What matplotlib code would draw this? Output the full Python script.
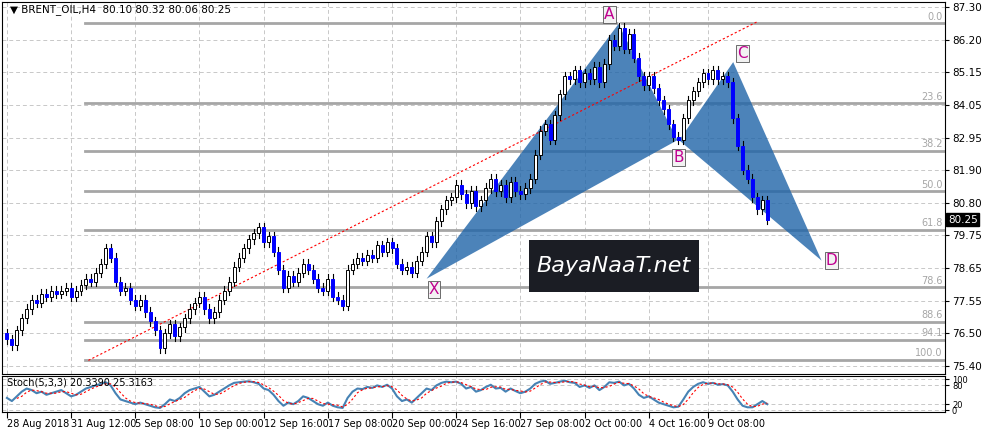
import numpy as np
import matplotlib.pyplot as plt
from matplotlib.patches import Polygon, Rectangle

# closes, one per H4 bar
closes = [76.3, 76.1, 76.6, 77.0, 77.3, 77.6, 77.5, 77.8, 77.7, 77.9,
          77.8, 77.9, 78.0, 77.7, 77.9, 78.1, 78.3, 78.2, 78.5, 78.8,
          79.3, 79.0, 78.2, 77.9, 78.0, 77.6, 77.4, 77.6, 77.2, 76.9,
          76.6, 76.0, 76.5, 76.8, 76.4, 76.7, 77.0, 77.3, 77.5, 77.7,
          77.3, 77.0, 77.2, 77.6, 77.9, 78.2, 78.7, 79.0, 79.3, 79.6,
          79.8, 80.0, 79.5, 79.7, 79.2, 78.6, 78.0, 78.4, 78.2, 78.5,
          78.8, 78.6, 78.3, 78.0, 77.9, 78.3, 77.7, 77.6, 77.4, 78.6,
          78.8, 79.0, 78.9, 79.1, 79.0, 79.4, 79.2, 79.5, 79.3, 78.8,
          78.6, 78.7, 78.5, 78.9, 79.2, 79.7, 79.5, 80.2, 80.6, 80.9,
          81.0, 81.4, 81.1, 80.8, 81.2, 80.7, 80.9, 81.3, 81.6, 81.2,
          81.4, 81.0, 81.5, 81.2, 81.1, 81.3, 81.6, 82.4, 83.2, 83.4,
          82.9, 83.7, 84.4, 85.0, 84.9, 85.2, 84.8, 85.1, 84.9, 85.3,
          84.8, 85.4, 86.2, 86.0, 86.6, 85.9, 86.4, 85.6, 85.0, 84.7,
          85.0, 84.6, 84.2, 83.9, 83.4, 83.0, 82.9, 83.6, 84.2, 84.5,
          84.8, 85.1, 84.9, 85.2, 84.9, 85.0, 84.8, 83.6, 82.7, 81.9,
          81.6, 81.0, 80.6, 80.9, 80.25]
first_open = 76.5

stoch_k = [40, 30, 45, 60, 70, 65, 55, 60, 50, 55,
           60, 65, 55, 45, 50, 60, 70, 75, 80, 85,
           90, 80, 55, 35, 30, 25, 20, 25, 20, 15,
           10, 8, 20, 35, 30, 40, 55, 65, 70, 75,
           60, 45, 50, 60, 70, 80, 88, 90, 92, 93,
           90, 85, 70, 65, 50, 30, 15, 25, 20, 30,
           45, 40, 30, 20, 15, 25, 15, 10, 8, 40,
           60, 70, 68, 75, 72, 80, 75, 82, 70, 45,
           30, 35, 25, 40, 55, 70, 65, 80, 88, 92,
           90, 92, 85, 70, 75, 60, 65, 75, 82, 70,
           72, 60, 70, 62, 55, 60, 70, 85, 92, 95,
           85, 88, 92, 95, 90, 88, 75, 80, 72, 80,
           65, 75, 90, 88, 92, 80, 85, 70, 50, 40,
           45, 35, 25, 20, 15, 10, 12, 35, 60, 75,
           85, 90, 85, 88, 82, 84, 80, 60, 35, 15,
           10, 10, 20, 30, 20]

date_labels = ["28 Aug 2018", "31 Aug 12:00", "5 Sep 08:00", "10 Sep 00:00",
               "12 Sep 16:00", "17 Sep 08:00", "20 Sep 00:00", "24 Sep 16:00",
               "27 Sep 08:00", "2 Oct 00:00", "4 Oct 16:00", "9 Oct 08:00"]
date_bars = [0, 13, 26, 39, 52, 65, 78, 91, 104, 117, 130, 142]

price_ticks = [87.30, 86.20, 85.15, 84.05, 82.95, 81.90, 80.80, 79.75,
               78.65, 77.55, 76.50, 75.40]
fib_names = ["0.0", "23.6", "38.2", "50.0", "61.8", "78.6", "88.6", "94.1", "100.0"]
fib_prices = [86.74, 84.10, 82.53, 81.19, 79.92, 78.02, 76.87, 76.28, 75.62]

# harmonic points: name, bar, price
pts = {"X": (85, 78.3), "A": (124, 86.75), "B": (136, 82.9),
       "C": (147, 85.5), "D": (165, 78.9)}

plt.rcParams['font.family'] = ['DejaVu Sans']
fig = plt.figure(figsize=(10.07, 4.38), dpi=100)
W, H = 1007, 438
ax = fig.add_axes([2 / W, 1 - 374 / H, 943 / W, 372 / H])
ax2 = fig.add_axes([2 / W, 1 - 412 / H, 943 / W, 36 / H], sharex=ax)

n = len(closes)
opens = [first_open] + closes[:-1]
x = np.arange(n)
for i in x:
    o, c = opens[i], closes[i]
    hi, lo = max(o, c) + 0.15, min(o, c) - 0.15
    ax.plot([i, i], [lo, hi], color='black', lw=0.8, zorder=3)
    if c >= o:
        ax.add_patch(Rectangle((i - 0.3, o), 0.6, max(c - o, 0.02), fc='white', ec='black', lw=0.7, zorder=4))
    else:
        ax.add_patch(Rectangle((i - 0.3, c), 0.6, o - c, fc='#0000ff', ec='#0000ff', lw=0.7, zorder=4))

# harmonic pattern
X, A, B, C, D = (pts[k] for k in "XABCD")
ax.add_patch(Polygon([X, A, B], fc='#1f64a8', alpha=0.8, ec='none', zorder=2))
ax.add_patch(Polygon([B, C, D], fc='#1f64a8', alpha=0.8, ec='none', zorder=2))
ax.plot([A[0], B[0]], [A[1], B[1]], color='white', lw=1.5, zorder=2)
ax.plot([B[0], C[0]], [B[1], C[1]], color='white', lw=1.5, zorder=2)
offs = {"X": (1.5, -0.35), "A": (-2, 0.3), "B": (0, -0.6), "C": (2, 0.25), "D": (2, 0)}
for k, (bx, by) in pts.items():
    dx, dy = offs[k]
    ax.text(bx + dx, by + dy, k, color='#c0008f', fontsize=11, ha='center', va='center', zorder=6,
            bbox=dict(fc='#f2f2f2', ec='#555555', lw=0.6, pad=0.8))

# trendline
ax.plot([16.5, 152], [75.6, 86.8], color='red', ls=(0, (2, 2)), lw=0.8, zorder=2)

# fib levels
for name, p in zip(fib_names, fib_prices):
    ax.axhline(p, xmin=83 / 943, color='#a6a6a6', lw=2, zorder=1)
    ax.text(189.5, p + 0.05, name, color='#a6a6a6', fontsize=7, ha='right', va='bottom', zorder=1)

ax.set_xlim(-1, 190)
ax.set_ylim(75.15, 87.45)
ax.yaxis.tick_right()
ax.set_yticks(price_ticks)
ax.set_yticklabels([f"{v:.2f}" for v in price_ticks], fontsize=7.5)
ax.tick_params(axis='x', labelbottom=False, length=0)
ax.tick_params(axis='y', length=3, pad=2)
ax.set_xticks(date_bars)
ax.grid(True, color='#c8c8c8', ls=(0, (4, 3)), lw=0.7)
ax.set_axisbelow(True)
ax.text(0.008, 0.995, "\u25bc BRENT_OIL,H4  80.10 80.32 80.06 80.25", transform=ax.transAxes,
        fontsize=7.5, va='top', ha='left')
ax.text(1.003, (80.25 - 75.15) / (87.45 - 75.15), "80.25", transform=ax.transAxes, fontsize=7.5,
        color='white', va='center', ha='left', bbox=dict(fc='black', ec='black', pad=1))

# watermark
ax.add_patch(Rectangle((527 / 943, 1 - 290 / 372), 170 / 943, 52 / 372, transform=ax.transAxes,
                       fc='#1b1d24', ec='none', zorder=7))
ax.text(612 / 943, 1 - 264 / 372, "BayaNaaT.net", transform=ax.transAxes, fontsize=16, color='white',
        fontstyle='italic', ha='center', va='center', zorder=8)

# stochastic
stoch_d = np.convolve(stoch_k, np.ones(3) / 3, mode='full')[:n]
ax2.plot(x, stoch_k, color='#4682b4', lw=1.5)
ax2.plot(x[2:], stoch_d[2:], color='red', ls=(0, (2, 2)), lw=0.8)
ax2.set_ylim(-5, 110)
ax2.yaxis.tick_right()
ax2.set_yticks([0, 20, 80, 100])
ax2.set_yticklabels(["0", "20", "80", "100"], fontsize=6)
ax2.tick_params(axis='y', length=3, pad=2)
ax2.set_xticks(date_bars)
ax2.set_xticklabels(date_labels, fontsize=7, ha='left')
ax2.tick_params(axis='x', length=4, pad=1)
ax2.grid(True, color='#c8c8c8', ls=(0, (4, 3)), lw=0.7)
ax2.text(0.005, 0.95, "Stoch(5,3,3) 20.3390 25.3163", transform=ax2.transAxes, fontsize=7, va='top')

for a in (ax, ax2):
    for s in a.spines.values():
        s.set_color('black')

fig.savefig("out.png", dpi=100)
